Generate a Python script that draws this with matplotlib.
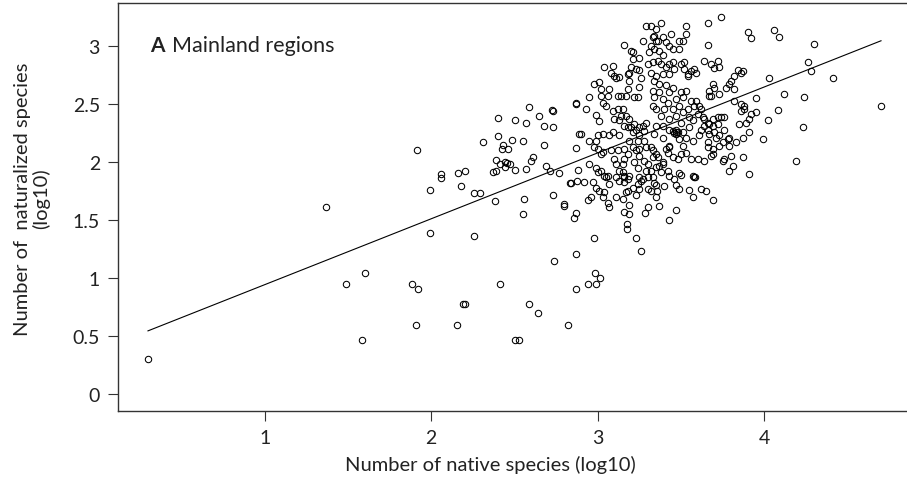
import matplotlib
matplotlib.use("Agg")
from matplotlib import pyplot as plt

# (native log10, naturalized log10), grouped by region of the plot
sparse_pts = [
    (0.30, 0.30), (1.37, 1.61), (1.49, 0.95), (1.60, 1.04), (1.585, 0.47),
    (1.917, 2.106), (2.06, 1.90), (2.06, 1.86), (1.99, 1.76), (2.16, 1.905), (2.205, 1.92),
    (2.18, 1.79), (2.255, 1.73), (2.29, 1.73), (1.99, 1.385), (2.255, 1.365), (1.885, 0.95),
    (1.92, 0.91), (2.41, 0.95), (2.19, 0.776), (2.20, 0.776), (2.59, 0.776), (2.64, 0.70),
    (1.91, 0.60), (2.155, 0.60), (2.82, 0.60), (2.50, 0.47), (2.53, 0.47), (2.74, 1.15),
    (2.87, 1.21), (2.87, 0.905), (2.94, 0.95), (2.99, 0.95), (2.985, 1.04), (3.015, 1.0),
    (2.98, 1.345), (3.23, 1.345), (3.26, 1.23), (2.38, 1.66), (2.55, 1.55), (2.80, 1.64),
    (2.80, 1.62), (2.87, 1.56), (2.855, 1.52),
]

left_pts = [
    (2.31, 2.17), (2.40, 2.38), (2.40, 2.22), (2.43, 2.15), (2.425, 2.11), (2.46, 2.11),
    (2.485, 2.19), (2.55, 2.18), (2.50, 2.36), (2.57, 2.34), (2.59, 2.47), (2.645, 2.40),
    (2.725, 2.45), (2.73, 2.44), (2.68, 2.31), (2.73, 2.30), (2.675, 2.15), (2.39, 2.02),
    (2.41, 1.98), (2.44, 2.0), (2.455, 1.99), (2.47, 1.98), (2.44, 1.96), (2.50, 1.93),
    (2.37, 1.91), (2.39, 1.925), (2.57, 1.94), (2.60, 2.01), (2.61, 2.04), (2.69, 1.97),
    (2.715, 1.92), (2.77, 1.905), (2.835, 1.82), (2.875, 1.84), (2.87, 2.51), (2.89, 2.24),
    (2.87, 2.12), (2.73, 1.72), (2.56, 1.68),
]

lower_core_pts = [
    (3.175, 1.47), (3.175, 1.42), (3.16, 1.57), (3.19, 1.55), (3.19, 1.63), (3.43, 1.50),
    (3.47, 1.59), (3.37, 1.62), (3.30, 1.61), (3.285, 1.56), (3.35, 1.70), (3.355, 1.75),
    (3.30, 1.77), (3.25, 1.77), (3.23, 1.72), (3.40, 1.79), (3.34, 1.82), (3.47, 1.80),
    (3.49, 1.77), (3.545, 1.76), (3.57, 1.70), (3.62, 1.77), (3.65, 1.75), (3.69, 1.675),
    (2.94, 1.67), (2.96, 1.695), (2.99, 1.78), (3.035, 1.74), (3.03, 1.70), (3.06, 1.645),
    (3.07, 1.61), (3.11, 1.70), (3.15, 1.68), (3.16, 1.825), (3.07, 1.81), (3.005, 1.75),
    (2.84, 1.82), (2.92, 1.83), (2.97, 1.83), (3.18, 1.75), (3.17, 1.74), (3.26, 1.84),
    (3.18, 1.85), (3.905, 1.90), (3.785, 1.925), (3.81, 1.97), (3.87, 2.04), (3.80, 2.05),
    (3.75, 2.01), (3.76, 2.03), (3.58, 1.875), (3.585, 1.87), (3.455, 1.85), (3.49, 1.905),
    (3.50, 1.89), (3.38, 1.91), (3.39, 1.98), (3.37, 1.97), (3.35, 1.955), (3.43, 1.88),
    (3.42, 1.925), (3.56, 2.03), (3.60, 2.03), (3.64, 2.005), (3.68, 2.05), (3.69, 2.11),
    (3.66, 2.13), (3.41, 2.11), (3.43, 2.13), (3.42, 2.08), (3.45, 2.04), (3.48, 2.03),
    (3.50, 2.07), (3.53, 2.08), (3.51, 2.14), (3.33, 2.10), (3.35, 2.07), (3.33, 2.04),
    (2.88, 1.93), (3.05, 1.87), (3.06, 1.88), (2.98, 2.13), (3.00, 2.11), (3.03, 2.09),
    (3.02, 2.07), (3.08, 2.10), (3.12, 2.10), (3.16, 2.11), (3.21, 2.13), (3.23, 2.10),
    (3.25, 2.11), (3.29, 2.13), (3.25, 2.05), (3.28, 2.01), (3.30, 1.98), (2.95, 1.98),
    (2.99, 1.95), (3.00, 1.91), (3.02, 1.925), (3.04, 1.88), (3.10, 2.03), (3.11, 1.98),
    (3.13, 1.925), (3.15, 1.91), (3.16, 1.87), (3.19, 1.88), (3.11, 1.87), (3.13, 1.84),
    (3.16, 2.03), (3.18, 2.07), (3.15, 1.98), (3.22, 2.00), (3.24, 1.95), (3.25, 1.87),
    (3.27, 1.85), (3.30, 1.87), (3.29, 1.925), (3.24, 1.81), (3.21, 1.78), (3.32, 2.13),
    (3.36, 2.04), (3.39, 2.00), (3.32, 1.925), (3.33, 1.87), (3.35, 1.80), (3.32, 1.75),
    (3.73, 2.14), (3.79, 2.14), (3.69, 2.07), (3.16, 1.88), (3.57, 1.88),
]

right_pts = [
    (3.90, 3.12), (3.92, 3.07), (4.055, 3.14), (4.09, 3.08), (4.30, 3.02), (4.26, 2.86),
    (4.28, 2.78), (4.41, 2.72), (4.03, 2.72), (3.87, 2.78), (4.12, 2.59), (4.24, 2.56),
    (3.95, 2.55), (4.08, 2.45), (4.02, 2.36), (4.23, 2.30), (4.70, 2.48), (3.88, 2.48),
    (3.99, 2.20), (4.19, 2.005),
]

upper_left_core_pts = [
    (2.87, 2.50), (2.93, 2.46), (2.95, 2.56), (2.90, 2.24), (2.95, 2.18), (2.99, 2.405),
    (3.01, 2.35), (2.98, 2.67), (3.01, 2.69), (3.02, 2.63), (3.04, 2.82), (3.02, 2.565),
    (3.03, 2.51), (3.05, 2.485), (3.06, 2.57), (3.07, 2.63), (3.08, 2.77), (3.09, 2.825),
    (3.10, 2.74), (3.11, 2.72), (3.13, 2.73), (3.12, 2.565), (3.14, 2.565), (3.17, 2.565),
    (3.18, 2.63), (3.19, 2.70), (3.18, 2.76), (3.20, 2.815), (3.21, 2.89), (3.21, 2.945),
    (3.23, 2.80), (3.25, 2.79), (3.26, 2.72), (3.25, 2.645), (3.24, 2.56), (3.22, 2.56),
    (3.19, 2.77), (3.16, 3.01), (3.20, 2.96), (3.25, 2.90), (3.27, 3.045), (3.29, 3.175),
    (3.31, 2.945), (3.30, 2.845), (3.09, 2.44), (3.12, 2.46), (3.15, 2.46), (3.10, 2.37),
    (3.13, 2.36), (3.14, 2.40), (3.17, 2.40), (3.19, 2.37), (3.16, 2.31), (3.18, 2.30),
    (3.20, 2.30), (3.22, 2.33), (3.23, 2.28), (3.25, 2.30), (3.27, 2.31), (3.29, 2.34),
    (3.28, 2.27), (3.21, 2.255), (3.25, 2.23), (3.24, 2.18), (3.19, 2.18), (3.13, 2.23),
    (3.09, 2.255), (3.07, 2.23), (3.03, 2.24), (3.00, 2.23), (2.99, 2.18), (3.28, 2.18),
]

upper_right_core_pts = [
    (3.74, 3.25), (3.66, 3.20), (3.66, 3.01), (3.38, 3.20), (3.35, 3.15), (3.32, 3.175),
    (3.53, 3.17), (3.53, 3.10), (3.51, 3.045), (3.49, 3.045), (3.44, 3.10), (3.41, 3.03),
    (3.43, 3.00), (3.45, 2.97), (3.49, 2.97), (3.39, 3.075), (3.36, 3.045), (3.33, 3.075),
    (3.64, 2.87), (3.68, 2.845), (3.72, 2.87), (3.73, 2.815), (3.70, 2.81), (3.58, 2.80),
    (3.59, 2.77), (3.54, 2.76), (3.56, 2.785), (3.52, 2.86), (3.84, 2.79), (3.86, 2.77),
    (3.82, 2.745), (3.80, 2.70), (3.79, 2.67), (3.77, 2.64), (3.82, 2.63), (3.69, 2.67),
    (3.70, 2.64), (3.67, 2.615), (3.68, 2.57), (3.73, 2.585), (3.665, 2.565), (3.82, 2.53),
    (3.86, 2.50), (3.88, 2.46), (3.86, 2.44), (3.92, 2.41), (3.95, 2.43), (3.91, 2.37),
    (3.85, 2.33), (3.89, 2.34), (3.91, 2.255), (3.87, 2.21), (3.79, 2.21), (3.78, 2.20),
    (3.73, 2.23), (3.71, 2.21), (3.76, 2.28), (3.69, 2.37), (3.67, 2.33), (3.72, 2.385),
    (3.74, 2.385), (3.76, 2.385), (3.63, 2.385), (3.64, 2.31), (3.66, 2.34), (3.69, 2.31),
    (3.66, 2.28), (3.67, 2.24), (3.70, 2.255), (3.72, 2.33), (3.75, 2.17), (3.66, 2.17),
    (3.83, 2.17),
]

mid_core_pts = [
    (3.34, 3.09), (3.35, 3.045), (3.32, 3.00), (3.34, 2.97), (3.37, 2.96), (3.39, 2.92),
    (3.36, 2.87), (3.33, 2.86), (3.38, 2.845), (3.41, 2.815), (3.43, 2.845), (3.45, 2.86),
    (3.46, 2.80), (3.50, 2.845), (3.52, 2.80), (3.54, 2.745), (3.43, 2.76), (3.39, 2.76),
    (3.35, 2.745), (3.32, 2.77), (3.34, 2.70), (3.37, 2.67), (3.41, 2.66), (3.45, 2.64),
    (3.43, 2.60), (3.37, 2.60), (3.33, 2.615), (3.34, 2.56), (3.39, 2.54), (3.42, 2.51),
    (3.47, 2.54), (3.50, 2.60), (3.53, 2.615), (3.51, 2.56), (3.56, 2.53), (3.49, 2.485),
    (3.45, 2.46), (3.40, 2.46), (3.35, 2.46), (3.33, 2.485), (3.38, 2.40), (3.43, 2.37),
    (3.47, 2.40), (3.51, 2.43), (3.54, 2.46), (3.58, 2.485), (3.59, 2.53), (3.61, 2.485),
    (3.62, 2.46), (3.60, 2.41), (3.55, 2.385), (3.50, 2.34), (3.47, 2.28), (3.43, 2.28),
    (3.39, 2.31), (3.35, 2.31), (3.34, 2.24), (3.39, 2.21), (3.45, 2.27), (3.47, 2.24),
    (3.49, 2.20), (3.51, 2.255), (3.55, 2.30), (3.57, 2.36), (3.53, 2.21), (3.57, 2.18),
    (3.61, 2.23), (3.62, 2.28), (3.64, 2.37), (3.47, 2.255), (3.48, 2.26), (3.46, 2.25),
    (3.43, 2.14),
]

fit_intercept = 0.375
fit_slope = 0.568
fit_x = [0.30, 4.70]

x_ticks = [1, 2, 3, 4]
y_ticks = [0, 0.5, 1, 1.5, 2, 2.5, 3]
y_tick_labels = ["0", "0.5", "1", "1.5", "2", "2.5", "3"]

plt.rcParams['font.family'] = ['Lato', 'DejaVu Sans']

fig = plt.figure(figsize=(9.07, 4.89), dpi=100)
ax = fig.add_axes([118 / 907, 77 / 489, 793 / 907, 408 / 489])

groups = [sparse_pts, left_pts, lower_core_pts, right_pts,
          upper_left_core_pts, upper_right_core_pts, mid_core_pts]
for g in groups:
    xs = [p[0] for p in g]
    ys = [p[1] for p in g]
    ax.plot(xs, ys, linestyle="none", marker="o", markersize=4.6,
            markerfacecolor="none", markeredgecolor="black", markeredgewidth=0.75)

ax.plot(fit_x, [fit_intercept + fit_slope * v for v in fit_x], color="black", linewidth=0.8)

ax.set_xlim(0.12, 4.88)
ax.set_ylim(-0.145, 3.37)
ax.set_xticks(x_ticks)
ax.set_xticklabels([str(t) for t in x_ticks])
ax.set_yticks(y_ticks)
ax.set_yticklabels(y_tick_labels)
ax.tick_params(direction="out", length=7, width=0.8, labelsize=14, pad=6, color="#333333",
               labelcolor="#222222")
for s in ax.spines.values():
    s.set_linewidth(1.0)
    s.set_color("#333333")

ax.set_xlabel("Number of native species (log10)", fontsize=14.5, color="#222222")
ax.xaxis.set_label_coords(0.469, -0.108)
ax.set_ylabel("Number of  naturalized species\n(log10)", fontsize=14.5,
              linespacing=1.05, color="#222222")
ax.yaxis.set_label_coords(-0.086, 0.522)

ax.text(0.04, 0.898, "A", transform=ax.transAxes, fontsize=15, fontweight="bold",
        va="center", ha="left", color="#222222")
ax.text(0.068, 0.898, "Mainland regions", transform=ax.transAxes, fontsize=15.5,
        va="center", ha="left", color="#222222")

fig.savefig("out.png", dpi=100)
